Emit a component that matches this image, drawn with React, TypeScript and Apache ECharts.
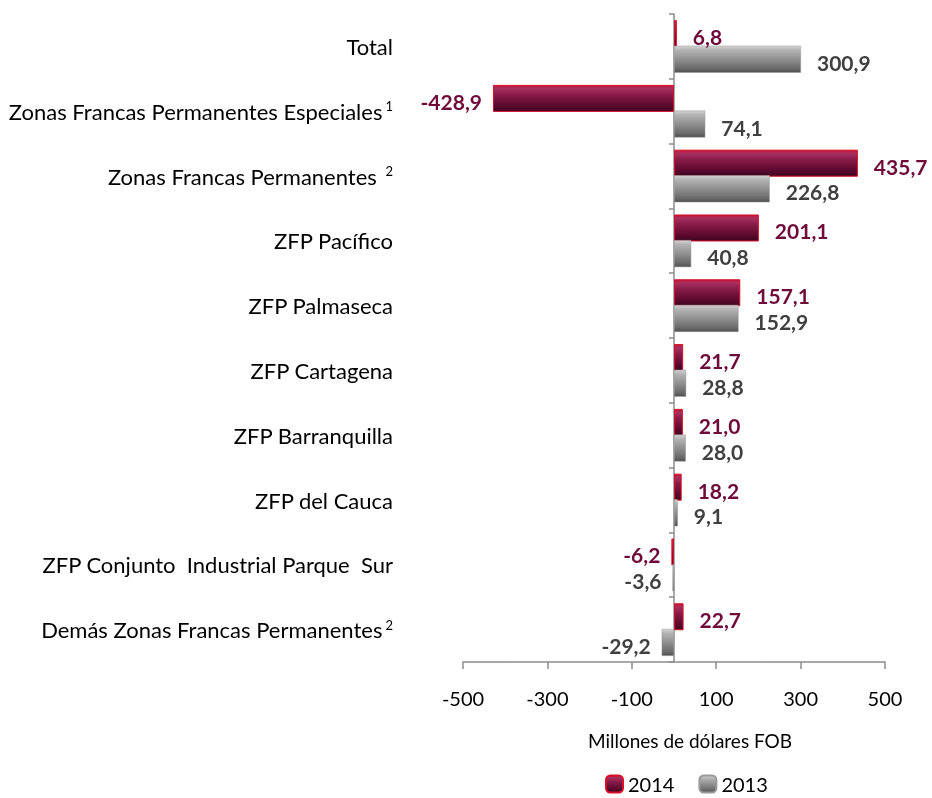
import React, { useEffect, useRef } from "react";
import * as echarts from "echarts";

const categories = [
  "Total",
  "Zonas Francas Permanentes Especiales{sup|1}",
  "Zonas Francas Permanentes {sup|2}",
  "ZFP Pacífico",
  "ZFP Palmaseca",
  "ZFP Cartagena",
  "ZFP Barranquilla",
  "ZFP del Cauca",
  "ZFP Conjunto  Industrial Parque  Sur",
  "Demás Zonas Francas Permanentes{sup|2}",
];
const values2014 = [6.8, -428.9, 435.7, 201.1, 157.1, 21.7, 21.0, 18.2, -6.2, 22.7];
const values2013 = [300.9, 74.1, 226.8, 40.8, 152.9, 28.8, 28.0, 9.1, -3.6, -29.2];
const xTicks = [-500, -300, -100, 100, 300, 500];
const seriesNames = ["2014", "2013"];

const FONT = "Lato, 'Open Sans', sans-serif";

const fmt = (v: number) => v.toFixed(1).replace(".", ",");

const toItems = (vals: number[]) =>
  vals.map((v) => ({
    value: v,
    label: {
      position: v < 0 ? "left" : "right",
      distance: v < 0 ? 11 : 16,
    },
  }));

const redGrad = new echarts.graphic.LinearGradient(0, 0, 0, 1, [
  { offset: 0, color: "#C0163A" },
  { offset: 0.12, color: "#A8305E" },
  { offset: 0.35, color: "#8A1C4A" },
  { offset: 0.75, color: "#5E0A30" },
  { offset: 1, color: "#3E0520" },
]);
const grayGrad = new echarts.graphic.LinearGradient(0, 0, 0, 1, [
  { offset: 0, color: "#D4D4D4" },
  { offset: 0.15, color: "#B4B4B4" },
  { offset: 0.5, color: "#909090" },
  { offset: 0.85, color: "#6A6A6A" },
  { offset: 1, color: "#505050" },
]);

export default function App() {
  const ref = useRef<HTMLDivElement>(null);
  useEffect(() => {
    if (!ref.current) return;
    const chart = echarts.init(ref.current, null, { renderer: "svg" });
    chart.setOption({
      animation: false,
      textStyle: { fontFamily: FONT },
      grid: {
        left: 463,
        right: 47,
        top: 14,
        bottom: 136,
        containLabel: false,
        outerBoundsMode: "none",
      },
      legend: {
        left: 605,
        top: 774,
        padding: 0,
        itemWidth: 17,
        itemHeight: 17,
        itemGap: 24,
        textStyle: { fontSize: 20, color: "#000", fontFamily: FONT },
        data: seriesNames,
      },
      xAxis: {
        type: "value",
        min: -500,
        max: 500,
        name: "Millones de dólares FOB",
        nameLocation: "middle",
        nameGap: 69,
        nameTextStyle: { fontSize: 19, color: "#000", padding: [0, 0, 0, 32], fontFamily: FONT },
        axisLine: { show: true, lineStyle: { color: "#8C8C8C", width: 1.5 } },
        axisTick: { show: true, length: 7, lineStyle: { color: "#8C8C8C", width: 1.5 }, customValues: xTicks },
        axisLabel: { fontSize: 20, color: "#000", margin: 26, customValues: xTicks, fontFamily: FONT },
        splitLine: { show: false },
      },
      yAxis: {
        type: "category",
        inverse: true,
        data: categories,
        axisLine: { show: true, onZero: true, lineStyle: { color: "#8C8C8C", width: 1.5 } },
        axisTick: { show: true, length: 5, lineStyle: { color: "#8C8C8C", width: 1.5 } },
        axisLabel: {
          margin: 70,
          fontSize: 22,
          color: "#000",
          fontFamily: FONT,
          rich: {
            sup: { fontSize: 13, verticalAlign: "top", color: "#000", fontFamily: FONT, padding: [0, 0, 10, 3] },
          },
        },
      },
      series: [
        {
          name: seriesNames[0],
          type: "bar",
          data: toItems(values2014),
          barWidth: 27,
          barGap: "-5%",
          itemStyle: { color: redGrad, borderColor: "#D8102A", borderWidth: 1 },
          label: {
            show: true,
            offset: [0, 3],
            formatter: (p: any) => fmt(p.value),
            fontSize: 21,
            fontWeight: "bold",
            color: "#6E0B3B",
            fontFamily: FONT,
          },
        },
        {
          name: seriesNames[1],
          type: "bar",
          data: toItems(values2013),
          barWidth: 27,
          itemStyle: { color: grayGrad, borderColor: "#9A9A9A", borderWidth: 0.5 },
          label: {
            show: true,
            offset: [0, 3],
            formatter: (p: any) => fmt(p.value),
            fontSize: 21,
            fontWeight: "bold",
            color: "#404040",
            fontFamily: FONT,
          },
        },
      ],
    });
    return () => chart.dispose();
  }, []);
  return (
    <div
      ref={ref}
      style={{ position: "fixed", left: 0, top: 0, width: 932, height: 798 }}
    />
  );
}
